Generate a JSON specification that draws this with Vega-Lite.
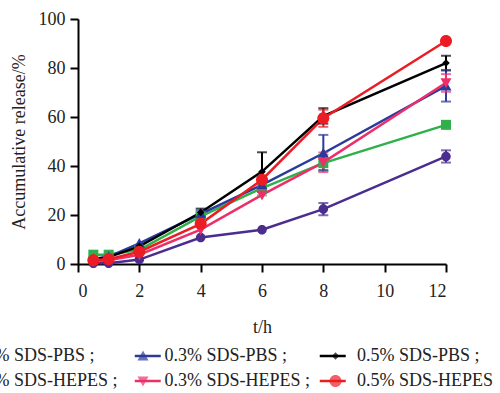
{
  "$schema": "https://vega.github.io/schema/vega-lite/v6.json",
  "autosize": "none",
  "width": 368,
  "height": 245,
  "padding": {"left": 78, "top": 19, "right": 54, "bottom": 129},
  "background": "white",
  "config": {
    "font": "Liberation Serif",
    "view": {"stroke": null},
    "axis": {
      "domainColor": "black", "domainWidth": 2, "tickColor": "black", "tickWidth": 2, "tickSize": 8,
      "labelFont": "Liberation Serif", "labelFontSize": 18, "labelColor": "#222",
      "titleFont": "Liberation Serif", "titleFontSize": 18, "titleFontWeight": "normal", "titleColor": "#222",
      "grid": false
    }
  },
  "data": {"values": [
    {"t": 0.5, "s": "0.1% SDS-PBS", "v": 3.8},
    {"t": 1, "s": "0.1% SDS-PBS", "v": 3.8},
    {"t": 2, "s": "0.1% SDS-PBS", "v": 5.8},
    {"t": 4, "s": "0.1% SDS-PBS", "v": 19.4, "lo": 18, "hi": 21},
    {"t": 6, "s": "0.1% SDS-PBS", "v": 31, "lo": 28, "hi": 34},
    {"t": 8, "s": "0.1% SDS-PBS", "v": 41.2, "lo": 38, "hi": 44.5},
    {"t": 12, "s": "0.1% SDS-PBS", "v": 56.8},
    {"t": 0.5, "s": "0.3% SDS-PBS", "v": 2},
    {"t": 1, "s": "0.3% SDS-PBS", "v": 3},
    {"t": 2, "s": "0.3% SDS-PBS", "v": 8.4},
    {"t": 4, "s": "0.3% SDS-PBS", "v": 20.5, "lo": 19.5, "hi": 21.8},
    {"t": 6, "s": "0.3% SDS-PBS", "v": 32.3},
    {"t": 8, "s": "0.3% SDS-PBS", "v": 45.2, "lo": 38.4, "hi": 52.7},
    {"t": 12, "s": "0.3% SDS-PBS", "v": 72.7, "lo": 66.3, "hi": 79.2},
    {"t": 0.5, "s": "0.5% SDS-PBS", "v": 2},
    {"t": 1, "s": "0.5% SDS-PBS", "v": 2.8},
    {"t": 2, "s": "0.5% SDS-PBS", "v": 7.2},
    {"t": 4, "s": "0.5% SDS-PBS", "v": 21, "lo": 19.5, "hi": 22.6},
    {"t": 6, "s": "0.5% SDS-PBS", "v": 37.7, "lo": 30, "hi": 45.6},
    {"t": 8, "s": "0.5% SDS-PBS", "v": 60.4, "lo": 57.3, "hi": 63.6},
    {"t": 12, "s": "0.5% SDS-PBS", "v": 82, "lo": 79, "hi": 85},
    {"t": 0.5, "s": "0.1% SDS-HEPES", "v": 0.3},
    {"t": 1, "s": "0.1% SDS-HEPES", "v": 0.3},
    {"t": 2, "s": "0.1% SDS-HEPES", "v": 1.8},
    {"t": 4, "s": "0.1% SDS-HEPES", "v": 10.8},
    {"t": 6, "s": "0.1% SDS-HEPES", "v": 14},
    {"t": 8, "s": "0.1% SDS-HEPES", "v": 22.4, "lo": 19.9, "hi": 24.9},
    {"t": 12, "s": "0.1% SDS-HEPES", "v": 43.9, "lo": 41.4, "hi": 46.4},
    {"t": 0.5, "s": "0.3% SDS-HEPES", "v": 1},
    {"t": 1, "s": "0.3% SDS-HEPES", "v": 1.5},
    {"t": 2, "s": "0.3% SDS-HEPES", "v": 3.8},
    {"t": 4, "s": "0.3% SDS-HEPES", "v": 14},
    {"t": 6, "s": "0.3% SDS-HEPES", "v": 28.2},
    {"t": 8, "s": "0.3% SDS-HEPES", "v": 41.5, "lo": 37.5, "hi": 45.5},
    {"t": 12, "s": "0.3% SDS-HEPES", "v": 74, "lo": 70.3, "hi": 77.5},
    {"t": 0.5, "s": "0.5% SDS-HEPES", "v": 1.5},
    {"t": 1, "s": "0.5% SDS-HEPES", "v": 2},
    {"t": 2, "s": "0.5% SDS-HEPES", "v": 5},
    {"t": 4, "s": "0.5% SDS-HEPES", "v": 16.4, "lo": 15, "hi": 17.8},
    {"t": 6, "s": "0.5% SDS-HEPES", "v": 34.4},
    {"t": 8, "s": "0.5% SDS-HEPES", "v": 59.5, "lo": 56, "hi": 63},
    {"t": 12, "s": "0.5% SDS-HEPES", "v": 91}
  ]},
  "encoding": {
    "x": {"field": "t", "type": "quantitative", "scale": {"domain": [0, 12], "nice": false},
      "axis": {"values": [0, 2, 4, 6, 8, 10, 12], "title": "t/h", "titlePadding": 18, "labelPadding": 10}}
  },
  "layer": [
    {
      "mark": {"type": "line", "strokeWidth": 2.5},
      "encoding": {
        "y": {"field": "v", "type": "quantitative", "scale": {"domain": [0, 100], "nice": false},
          "axis": {"values": [0, 20, 40, 60, 80, 100], "title": "Accumulative release/%", "titlePadding": 10, "labelPadding": 5}},
        "stroke": {"field": "s", "type": "nominal",
          "sort": ["0.1% SDS-PBS", "0.3% SDS-PBS", "0.5% SDS-PBS", "0.1% SDS-HEPES", "0.3% SDS-HEPES", "0.5% SDS-HEPES"],
          "scale": {"range": ["#2fb04a", "#2b3a9b", "#000000", "#4a2d8e", "#ec2f6b", "#ec1c24"]},
          "legend": {
            "title": null, "orient": "none", "legendX": -124.25, "legendY": 328,
            "columns": 3, "direction": "horizontal", "gridAlign": "all",
            "columnPadding": 149, "rowPadding": 7,
            "symbolType": "M-2.6,0H2.6", "symbolSize": 100, "symbolStrokeWidth": 2.5, "symbolOpacity": 1,
            "labelFont": "Liberation Serif", "labelFontSize": 18, "labelOpacity": 0, "labelOffset": 0, "labelLimit": 300,
            "labelExpr": "' '"
          }}
      }
    },
    {
      "transform": [{"filter": "isValid(datum.lo)"}],
      "mark": {"type": "rule", "strokeWidth": 2},
      "encoding": {
        "y": {"field": "lo", "type": "quantitative"},
        "y2": {"field": "hi"},
        "color": {"field": "s", "type": "nominal"}
      }
    },
    {
      "transform": [{"filter": "isValid(datum.lo)"}],
      "mark": {"type": "tick", "size": 10, "thickness": 2, "orient": "horizontal"},
      "encoding": {
        "y": {"field": "lo", "type": "quantitative"},
        "color": {"field": "s", "type": "nominal"}
      }
    },
    {
      "transform": [{"filter": "isValid(datum.lo)"}],
      "mark": {"type": "tick", "size": 10, "thickness": 2, "orient": "horizontal"},
      "encoding": {
        "y": {"field": "hi", "type": "quantitative"},
        "color": {"field": "s", "type": "nominal"}
      }
    },
    {
      "mark": {"type": "point", "filled": true, "opacity": 1, "size": 100},
      "encoding": {
        "y": {"field": "v", "type": "quantitative"},
        "color": {"field": "s", "type": "nominal",
          "scale": {"domain": ["0.1% SDS-PBS", "0.3% SDS-PBS", "0.5% SDS-PBS", "0.1% SDS-HEPES", "0.3% SDS-HEPES", "0.5% SDS-HEPES"],
            "range": ["#2fb04a", "#2b3a9b", "#000000", "#4a2d8e", "#ec2f6b", "#ec1c24"]},
          "legend": {
            "title": null, "orient": "none", "legendX": -136.5, "legendY": 328, "zindex": 2,
            "columns": 3, "direction": "horizontal", "gridAlign": "all",
            "columnPadding": 15.5, "rowPadding": 7,
            "symbolSize": 100, "symbolStrokeWidth": 0, "symbolOpacity": 1,
            "labelFont": "Liberation Serif", "labelFontSize": 18, "labelColor": "#222", "labelOffset": 12.5, "labelLimit": 300,
            "labelExpr": "datum.label == '0.5% SDS-HEPES' ? datum.label : datum.label + ' ;'"
          }},
        "shape": {"field": "s", "type": "nominal", "legend": null,
          "scale": {"domain": ["0.1% SDS-PBS", "0.3% SDS-PBS", "0.5% SDS-PBS", "0.1% SDS-HEPES", "0.3% SDS-HEPES", "0.5% SDS-HEPES"],
            "range": [
              "M-1,-1H1V1H-1Z",
              "M0,-1.1L1.1,0.9H-1.1Z",
              "M0,-0.75L0.75,0L0,0.75L-0.75,0Z",
              "M-0.95,0A0.95,0.95,0,1,1,0.95,0A0.95,0.95,0,1,1,-0.95,0Z",
              "M-1.1,-0.9H1.1L0,1.1Z",
              "M-1.2,0A1.2,1.2,0,1,1,1.2,0A1.2,1.2,0,1,1,-1.2,0Z"
            ]}}
      }
    }
  ]
}
